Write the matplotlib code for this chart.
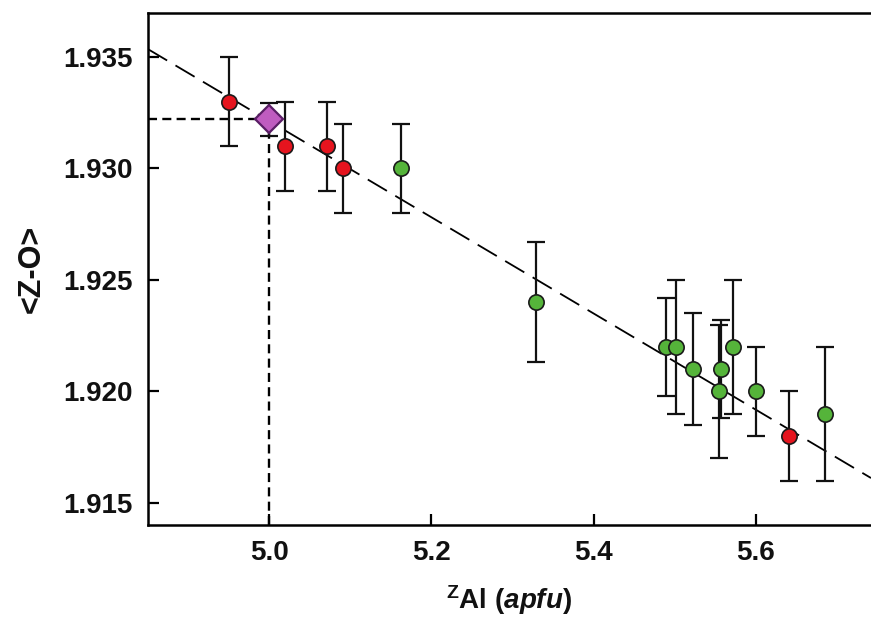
import matplotlib
matplotlib.use("Agg")
import matplotlib.pyplot as plt
import numpy as np

plt.rcParams['font.family'] = ['Liberation Sans', 'DejaVu Sans']
plt.rcParams['lines.scale_dashes'] = False
plt.rcParams['mathtext.fontset'] = 'custom'
plt.rcParams['mathtext.rm'] = 'Liberation Sans:bold'
plt.rcParams['mathtext.it'] = 'Liberation Sans:italic:bold'
plt.rcParams['mathtext.bf'] = 'Liberation Sans:bold'

# ---- data ----
red_x = [4.951, 5.020, 5.071, 5.091, 5.641]
red_y = [1.933, 1.931, 1.931, 1.930, 1.918]
red_err = [0.002, 0.002, 0.002, 0.002, 0.002]

green_x = [5.163, 5.329, 5.489, 5.501, 5.522, 5.5545, 5.557, 5.572, 5.600, 5.685]
green_y = [1.930, 1.924, 1.922, 1.922, 1.921, 1.920, 1.921, 1.922, 1.920, 1.919]
green_err = [0.002, 0.0027, 0.0022, 0.003, 0.0025, 0.003, 0.0022, 0.003, 0.002, 0.003]

ref_x = [5.0]
ref_y = [1.9322]
ref_err = [0.00075]

fit_slope = -0.02159
fit_intercept = 2.04008

x_ticks = [5.0, 5.2, 5.4, 5.6]
x_tick_labels = ["5.0", "5.2", "5.4", "5.6"]
y_ticks = [1.915, 1.920, 1.925, 1.930, 1.935]
y_tick_labels = ["1.915", "1.920", "1.925", "1.930", "1.935"]

xlim = (4.8509, 5.7417)
ylim = (1.91401, 1.93697)

# ---- figure ----
fig = plt.figure(figsize=(8.71, 6.29), dpi=100)
ax = fig.add_axes([148/871, 1-525/629, 1-148/871, (525-13)/629])
ax.set_xlim(*xlim)
ax.set_ylim(*ylim)

# fit line
fx = np.array(xlim)
ax.plot(fx, fit_intercept + fit_slope*fx, color='black', lw=1.3,
        dashes=(16, 7), zorder=2)

# guide lines to the reference point
ax.plot([xlim[0], ref_x[0]], [ref_y[0], ref_y[0]], color='black', lw=1.7,
        dashes=(6.5, 3.8), zorder=2)
ax.plot([ref_x[0], ref_x[0]], [ylim[0], ref_y[0]], color='black', lw=1.7,
        dashes=(6.5, 3.8), zorder=2)

eb_kw = dict(fmt='none', ecolor='#111111', elinewidth=1.6, capsize=6.2,
             capthick=1.6, zorder=3)
ax.errorbar(red_x, red_y, yerr=red_err, **eb_kw)
ax.errorbar(green_x, green_y, yerr=green_err, **eb_kw)
ax.errorbar(ref_x, ref_y, yerr=ref_err, **eb_kw)

ax.plot(red_x, red_y, 'o', ms=11, mfc='#e5141e', mec='#1a1a1a', mew=1.2,
        zorder=4)
ax.plot(green_x, green_y, 'o', ms=11, mfc='#55b43a', mec='#1a1a1a',
        mew=1.2, zorder=4)
ax.plot(ref_x, ref_y, 'D', ms=14.5, mfc='#bf5cc0', mec='#5a1e66', mew=1.6,
        zorder=5)

ax.set_xticks(x_ticks)
ax.set_xticklabels(x_tick_labels)
ax.set_yticks(y_ticks)
ax.set_yticklabels(y_tick_labels)
ax.tick_params(direction='in', length=8, width=1.6, labelsize=20, pad=11)
for lab in ax.get_xticklabels() + ax.get_yticklabels():
    lab.set_fontweight('bold')
    lab.set_color('#111111')

for s in ['left', 'bottom', 'top']:
    ax.spines[s].set_linewidth(1.8)
ax.spines['right'].set_visible(False)

ax.set_ylabel('<Z-O>', fontsize=22, fontweight='bold', labelpad=12,
              color='#111111')
ax.set_xlabel(r'$^{\mathrm{Z}}$Al ($\mathit{apfu}$)', fontsize=20,
              fontweight='bold', labelpad=12, color='#111111')

fig.savefig('out.png', dpi=100)
